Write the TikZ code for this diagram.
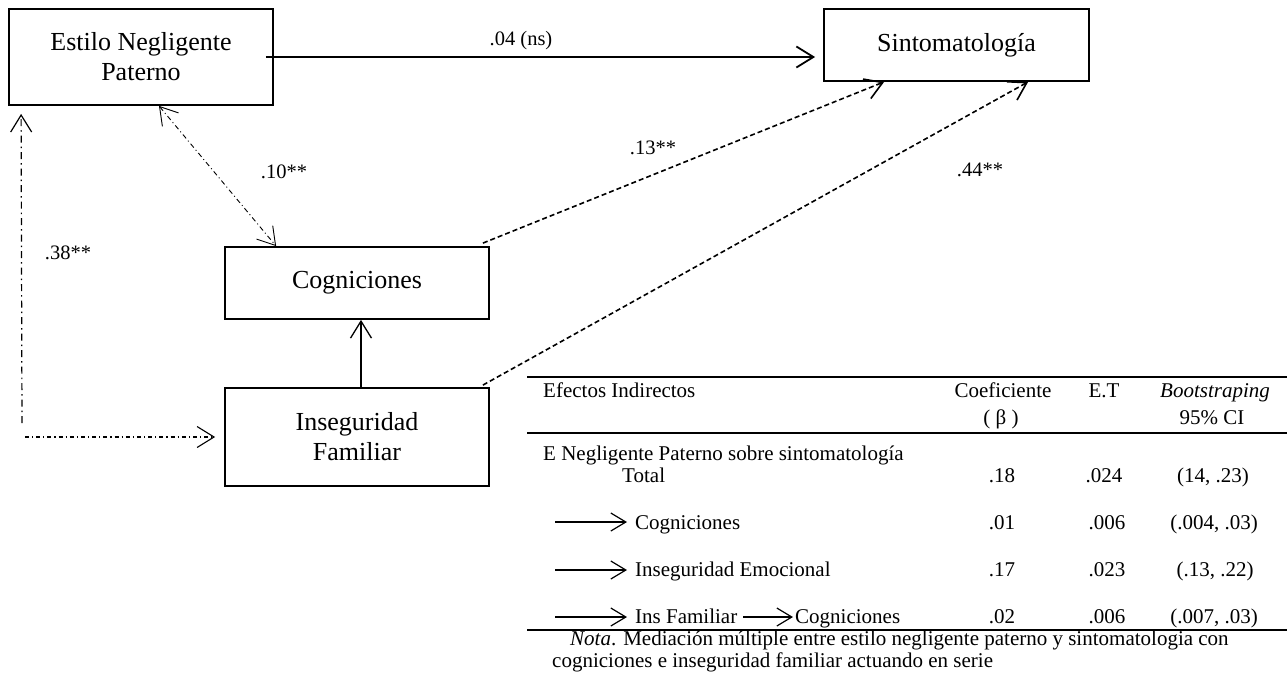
\documentclass[tikz,border=0pt]{standalone}
\usepackage{fontspec}
\setmainfont{Liberation Serif}
\usetikzlibrary{arrows.meta}

\tikzset{
  varbox/.style={draw, line width=1.8pt, minimum width=264pt, minimum height=72pt,
    inner sep=0pt, align=center, font=\fontsize{26}{30}\selectfont},
  coef/.style={inner sep=0pt, font=\fontsize{20.5}{24}\selectfont},
  cell/.style={inner sep=0pt, anchor=base, font=\fontsize{21}{24}\selectfont},
  cellw/.style={cell, anchor=base west},
  bigtip/.style={-{Straight Barb[length=17pt,width=21pt]}},
  bothtip/.style={{Straight Barb[length=17pt,width=21pt]}-{Straight Barb[length=17pt,width=21pt]}},
  rowtip/.style={-{Straight Barb[length=15pt,width=18pt]}, line width=1.2pt},
  direct/.style={bigtip, line width=1.8pt},
  indirect/.style={bigtip, line width=1.6pt, dash pattern=on 5pt off 3pt},
  assoc/.style={line width=0.9pt, dash pattern=on 5pt off 3pt on 1pt off 3pt},
  rule/.style={line width=2.4pt}
}

\begin{document}
\begin{tikzpicture}[x=1pt, y=-1pt]
\useasboundingbox (0,0) rectangle (1287,675);

% variables of the mediation model
\node[varbox, minimum height=96pt] (enp) at (141,57) {Estilo Negligente\\Paterno};
\node[varbox, minimum width=265pt] (sint) at (956.5,45) {Sintomatología};
\node[varbox] (cog) at (357,283) {Cogniciones};
\node[varbox, minimum height=98pt] (ins) at (357,437) {Inseguridad\\Familiar};

% direct effect
\draw[direct, shorten <=-8pt, shorten >=8pt] (enp.east) -- (sint.west |- enp.east);
\node[coef] (c04) at (521,41) {.04 (ns)};

% paths through the mediators
\draw[indirect] ([shift={(-7,-3)}]cog.north east) -- ([xshift=61pt]sint.south west);
\node[coef] (c13) at (653,148) {.13**};
\draw[indirect] ([shift={(-7,-2)}]ins.north east) -- ([xshift=205pt]sint.south west);
\node[coef] (c44) at (980,170) {.44**};
\draw[bigtip, line width=1.3pt] ([xshift=4pt]ins.north) -- ([xshift=4pt]cog.south);

% associations with the parenting style
\draw[assoc, bothtip] ([xshift=18pt]enp.south) -- ([xshift=52pt]cog.north west);
\node[coef] (c10) at (284,172) {.10**};

\coordinate (vbot) at (22,423);
\coordinate (hleft) at (25,437);
\draw[bigtip, line width=1.2pt, dash pattern=on 7pt off 4pt on 1.5pt off 4pt]
  (vbot) -- ([shift={(13,8)}]enp.south west);
\draw[bigtip, line width=1.1pt, dash pattern=on 4pt off 3pt on 1.2pt off 3pt, shorten >=9pt]
  (hleft) -- (ins.west);
\node[coef] (c38) at (68,253) {.38**};

% table of indirect effects
\draw[rule] (527,377) -- (1287,377);
\draw[rule] (527,433) -- (1287,433);
\draw[rule] (527,630) -- (1287,630);

\node[cellw] (hEf) at (543,397) {Efectos Indirectos};
\node[cell] (hCo) at (1003,397) {Coeficiente};
\node[cell] (hBe) at (1001,424) {( β )};
\node[cell] (hET) at (1104,397) {E.T};
\node[cell] (hBo) at (1215,397) {\textit{Bootstraping}};
\node[cell] (hCI) at (1212,424) {95\% CI};

\node[cellw] (rE) at (543,460) {E Negligente Paterno sobre sintomatología};
\node[cellw] (rT) at (622,482) {Total};
\node[cell] (vT1) at (1002,482) {.18};
\node[cell] (vT2) at (1104,482) {.024};
\node[cell] (vT3) at (1213,482) {(14, .23)};

\coordinate (a1) at (555,522);
\node[cellw] (rC) at (635,529) {Cogniciones};
\draw[rowtip, shorten >=8pt] (a1) -- (a1 -| rC.west);
\node[cell] (vC1) at (1002,529) {.01};
\node[cell] (vC2) at (1107,529) {.006};
\node[cell] (vC3) at (1214,529) {(.004, .03)};

\coordinate (a2) at (555,570);
\node[cellw] (rI) at (635,576) {Inseguridad Emocional};
\draw[rowtip, shorten >=8pt] (a2) -- (a2 -| rI.west);
\node[cell] (vI1) at (1002,576) {.17};
\node[cell] (vI2) at (1107,576) {.023};
\node[cell] (vI3) at (1215,576) {(.13, .22)};

\coordinate (a3) at (555,617);
\node[cellw] (rF) at (635,623) {Ins Familiar};
\draw[rowtip, shorten >=8pt] (a3) -- (a3 -| rF.west);
\node[cellw] (rFC) at (795,623) {Cogniciones};
\draw[rowtip, shorten >=2pt, shorten <=6pt] (rF.east |- a3) -- (a3 -| rFC.west);
\node[cell] (vF1) at (1002,623) {.02};
\node[cell] (vF2) at (1107,623) {.006};
\node[cell] (vF3) at (1214,623) {(.007, .03)};

\node[cellw] (nota1) at (570,645) {\textit{Nota}. Mediación múltiple entre estilo negligente paterno y sintomatologia con};
\node[cellw] (nota2) at (552,667) {cogniciones e inseguridad familiar actuando en serie};
\end{tikzpicture}
\end{document}
